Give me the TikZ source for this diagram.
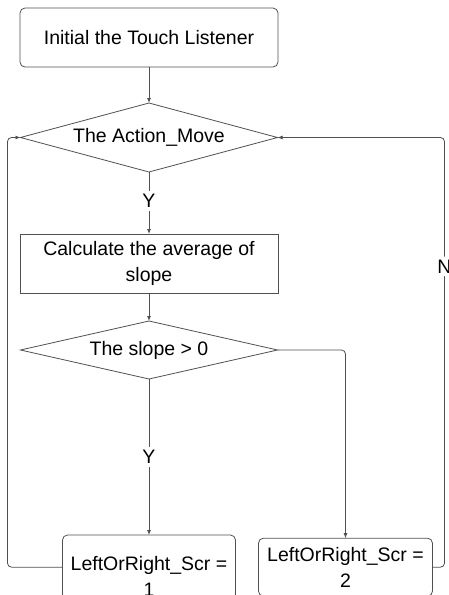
\documentclass[tikz,border=0pt]{standalone}
\usepackage{fontspec}
\setmainfont{Liberation Sans}
\usetikzlibrary{arrows.meta, positioning, shapes.geometric}
\definecolor{edge}{HTML}{505050}
\tikzset{box/.style={rectangle,draw=edge,rounded corners=5pt,align=center,inner sep=3pt,outer sep=0pt,minimum width=258pt,minimum height=59pt},decision/.style={diamond,draw=edge,align=center,inner sep=0pt,outer sep=0pt,minimum width=257pt},line/.style={draw=edge,-{Latex[length=5pt,width=4pt]}},tag/.style={fill=white,inner sep=3pt}}

\begin{document}
\begin{tikzpicture}[x=1pt,y=1pt,font=\fontsize{19.5}{26}\selectfont,line width=0.8pt]
\useasboundingbox (0,0) rectangle (448,-595);
\node[box] (init) at (149,-37.5) {Initial the Touch Listener};
\node[decision, aspect=3.72, minimum height=69pt, below=36pt of init] (move) {The Action\_Move};
\node[box, sharp corners, below=62pt of move] (calc) {Calculate the average of\\slope};
\node[decision, aspect=4.43, minimum height=58pt, below=28pt of calc] (slope) {The slope > 0};
\node[box, minimum width=173pt, minimum height=58pt, text height=58.3pt, text depth=-6.3pt, below=156pt of slope] (scrone) {LeftOrRight\_Scr =\\1};
\node[box, minimum width=174pt, minimum height=58pt, right=23pt of scrone] (scrtwo) {LeftOrRight\_Scr =\\2};
\draw[line] (init) -- (move);
\draw[line] (move) -- node[tag, pos=0.47]{Y} (calc);
\draw[line] (calc) -- (slope);
\draw[line] (slope) -- node[tag]{Y} (scrone);
\draw[line, rounded corners=4pt] (slope.east) -| (scrtwo.north);
\draw[line, rounded corners=4pt] (scrone.west) -- ++(-55,0) |- (move.west);
\draw[line, rounded corners=4pt] (scrtwo.east) -- ++(12,0) |- node[tag, pos=0.35]{N} (move.east);
\end{tikzpicture}
\end{document}
